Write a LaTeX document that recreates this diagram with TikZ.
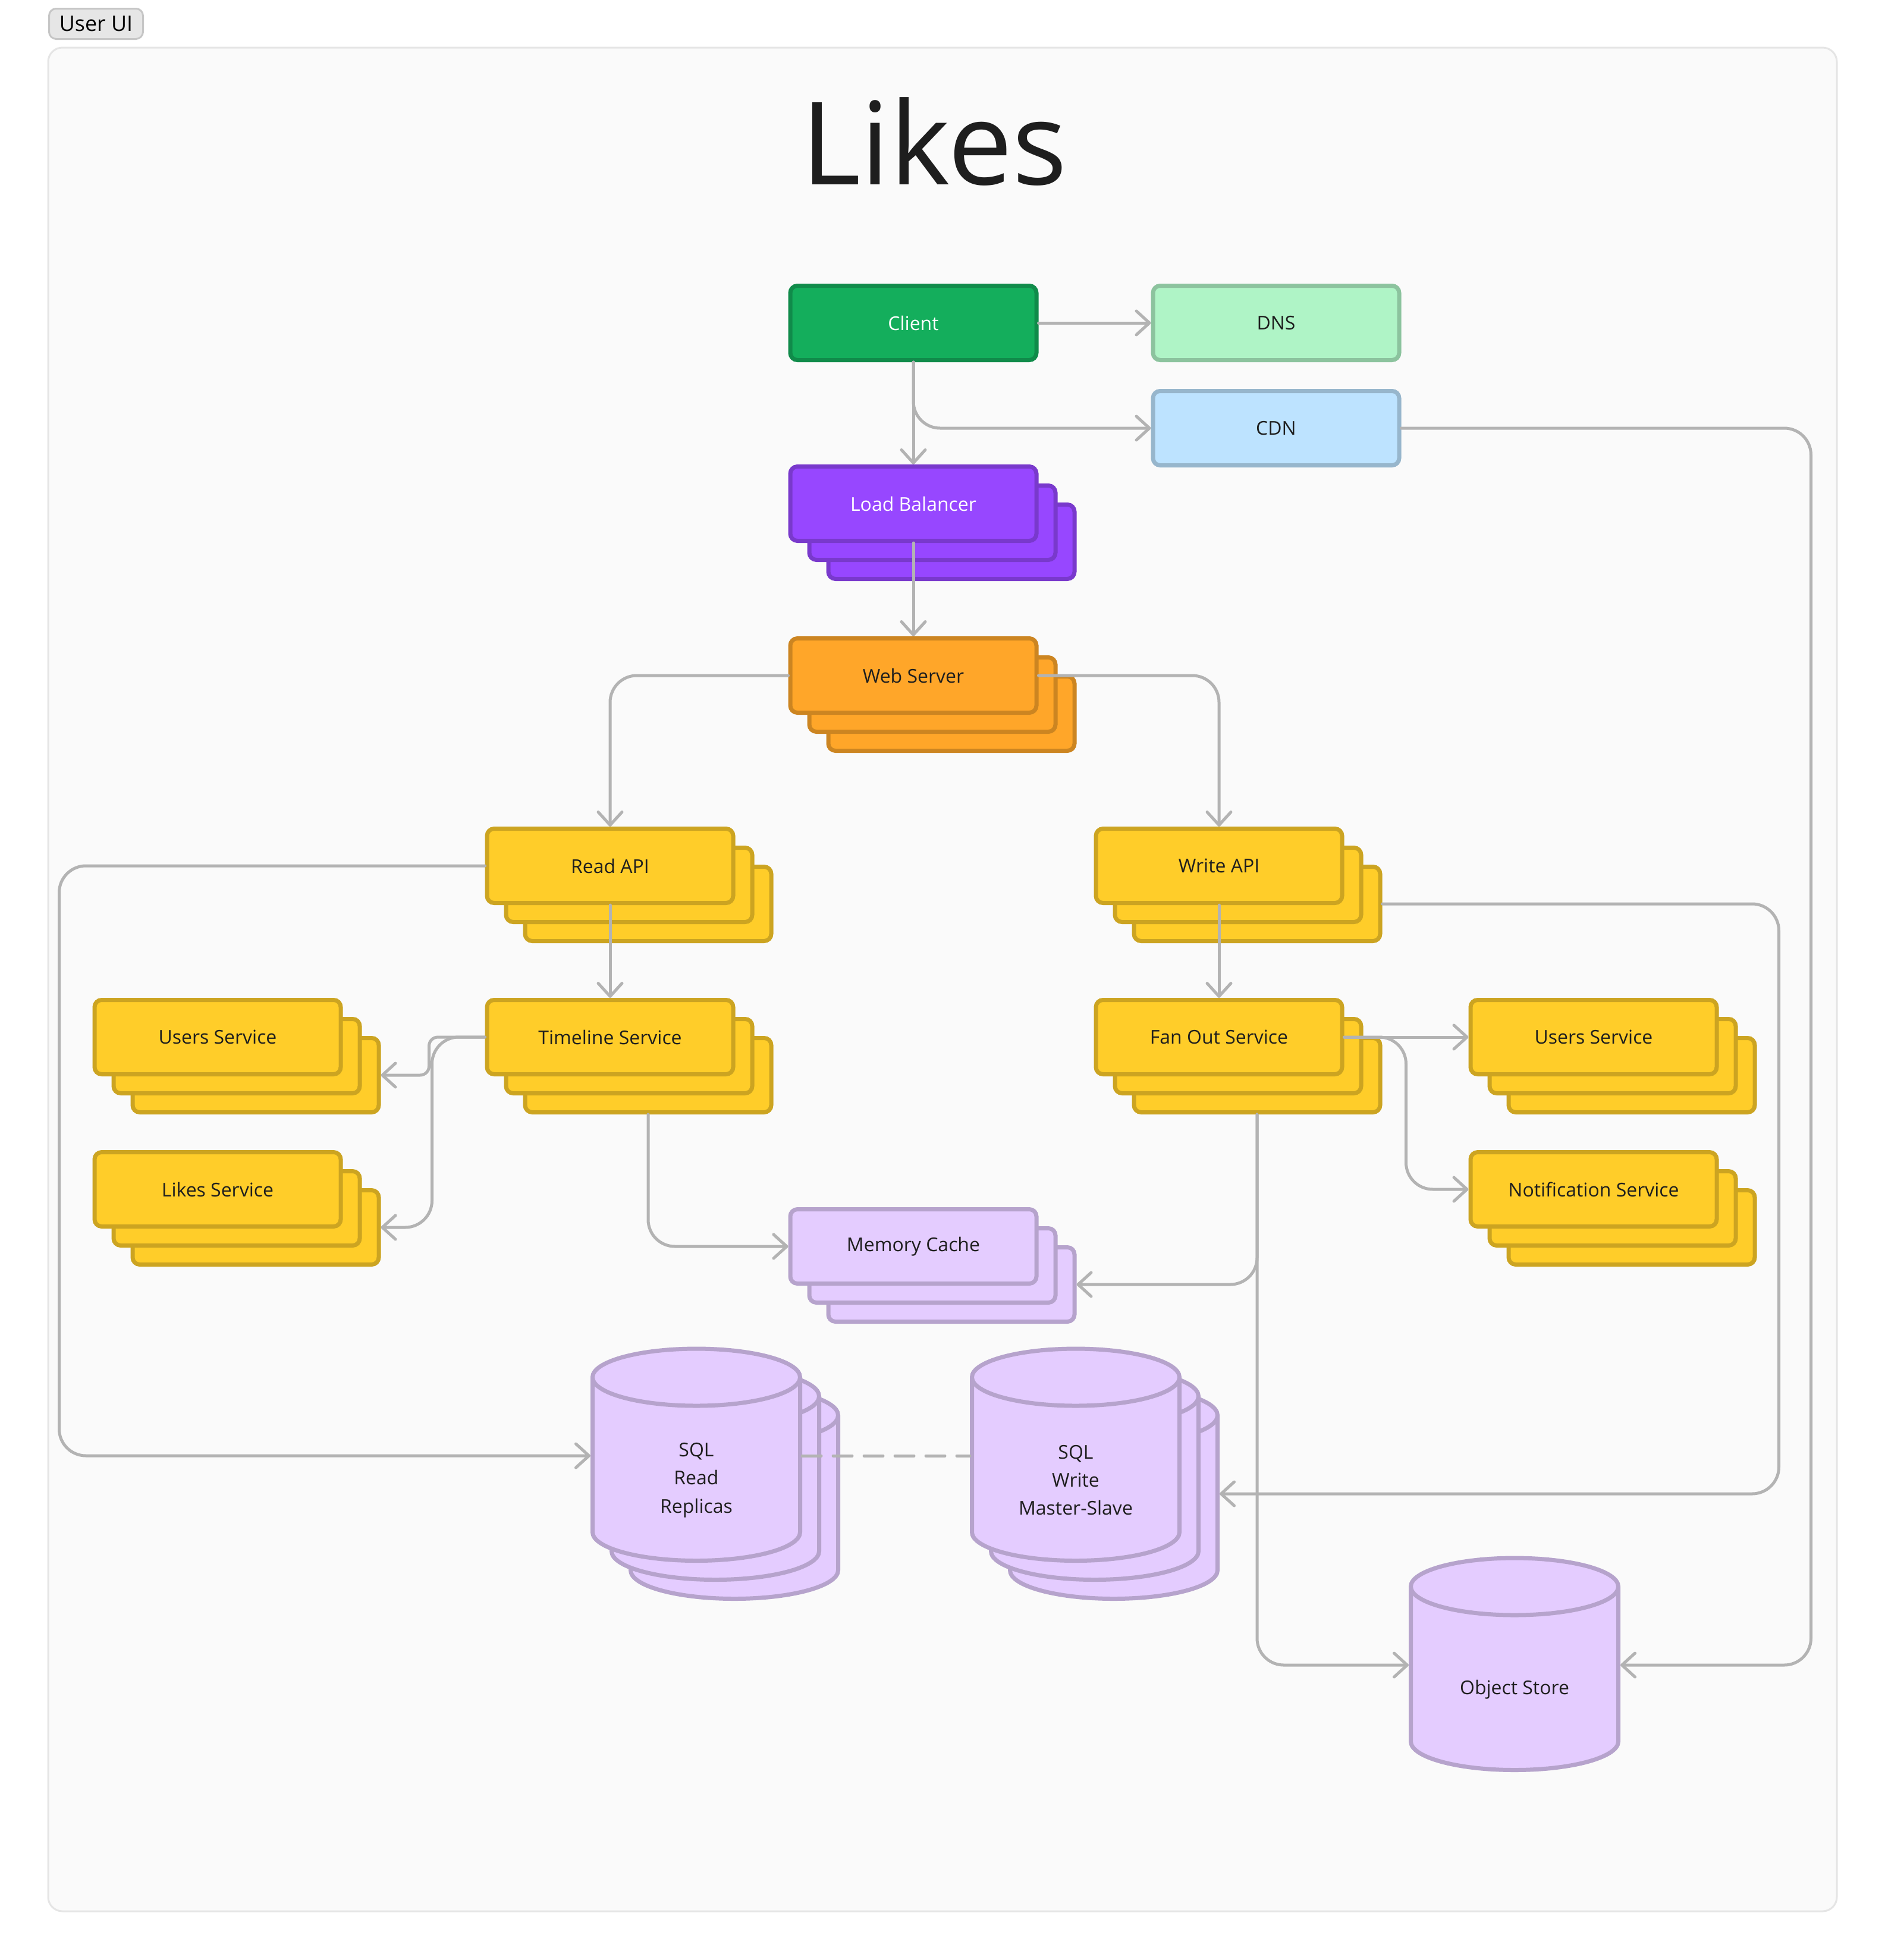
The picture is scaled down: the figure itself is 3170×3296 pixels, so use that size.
\documentclass[tikz,border=0pt]{standalone}
\usepackage{fontspec}
\setmainfont{Open Sans}
\usetikzlibrary{positioning,shadows,shapes.geometric,arrows.meta}
\definecolor{framefill}{HTML}{FAFAFA}
\definecolor{frameline}{HTML}{E5E5E5}
\definecolor{tabfill}{HTML}{E6E6E6}
\definecolor{tabline}{HTML}{C6C6C6}
\definecolor{ink}{HTML}{1E1E1E}
\definecolor{wire}{HTML}{B3B3B3}
\definecolor{greenfill}{HTML}{14AE5C}
\definecolor{greenline}{HTML}{108B4A}
\definecolor{mintfill}{HTML}{AFF4C6}
\definecolor{mintline}{HTML}{8CC39E}
\definecolor{skyfill}{HTML}{BDE3FF}
\definecolor{skyline}{HTML}{97B6CC}
\definecolor{violetfill}{HTML}{9747FF}
\definecolor{violetline}{HTML}{7939CC}
\definecolor{orangefill}{HTML}{FFA629}
\definecolor{orangeline}{HTML}{CC8521}
\definecolor{yellowfill}{HTML}{FFCD29}
\definecolor{yellowline}{HTML}{CCA421}
\definecolor{lilacfill}{HTML}{E4CCFF}
\definecolor{lilacline}{HTML}{B6A3CC}
\begin{document}
\begin{tikzpicture}[x=0.1mm, y=-0.1mm, on grid,
  every node/.style={font=\fontsize{9.1pt}{13.5pt}\selectfont, text=ink},
  box/.style={rectangle, rounded corners=1.2mm, line width=0.7mm,
    minimum width=41.4mm, minimum height=12.5mm, inner sep=0pt},
  stack/.style={copy shadow={shadow xshift=6.4mm, shadow yshift=-6.4mm},
    copy shadow={shadow xshift=3.2mm, shadow yshift=-3.2mm}},
  service/.style={box, stack, fill=yellowfill, draw=yellowline},
  db/.style={cylinder, shape border rotate=90, aspect=0.275, line width=0.7mm,
    minimum width=0pt, minimum height=0pt, inner xsep=17.45mm, inner ysep=12.85mm,
    fill=lilacfill, draw=lilacline},
  dbtext/.style={align=center, yshift=0.7mm},
  conn/.style={draw=wire, line width=0.5mm, line cap=round, rounded corners=4.5mm,
    -{Straight Barb[length=2.2mm, width=4mm, round]}},
  dashline/.style={draw=wire, line width=0.5mm, line cap=round,
    dash pattern=on 3.2mm off 2mm}]
\useasboundingbox (0,0) rectangle (3170,3296);
\fill[white] (0,0) rectangle (3170,3296);
\draw[draw=frameline, fill=framefill, line width=0.3mm, rounded corners=2.4mm]
  (81,80) rectangle (3089,3214);
\node[box, fill=tabfill, draw=tabline, line width=0.3mm, minimum width=15.8mm,
  minimum height=5.1mm, font=\fontsize{10.2pt}{12pt}\selectfont, text=black]
  (userui) at (161.5,40) {User UI};
\node[font=\fontsize{55pt}{60pt}\selectfont, anchor=base] (title) at (1571,310) {Likes};

\node[box, fill=greenfill, draw=greenline, text=white] (client) at (1536,543) {Client};
\node[box, fill=mintfill, draw=mintline, right=61mm of client] (dns) {DNS};
\node[box, fill=skyfill, draw=skyline, below=17.7mm of dns] (cdn) {CDN};
\node[box, stack, fill=violetfill, draw=violetline, text=white] (lb) at (1536,847) {Load Balancer};
\node[box, stack, fill=orangefill, draw=orangeline, below=28.9mm of lb] (web) {Web Server};
\node[service] (readapi) at (1026,1456) {Read API};
\node[service, right=102.4mm of readapi] (writeapi) {Write API};
\node[service, below=28.8mm of readapi] (timeline) {Timeline Service};
\node[service, below=28.8mm of writeapi] (fanout) {Fan Out Service};
\node[service, left=66mm of timeline] (usersl) {Users Service};
\node[service, below=25.6mm of usersl] (likes) {Likes Service};
\node[service, right=63mm of fanout] (usersr) {Users Service};
\node[service, below=25.6mm of usersr] (notif) {Notification Service};
\node[box, stack, fill=lilacfill, draw=lilacline] (memcache) at (1536,2096) {Memory Cache};
\node[db, stack, label={[dbtext, name=sqlread-text]center:SQL\\Read\\Replicas}]
  (sqlread) at (1171,2496) {};
\node[db, stack, right=63.8mm of sqlread,
  label={[dbtext, name=sqlwrite-text]center:SQL\\Write\\Master-Slave}] (sqlwrite) {};
\node[db, label={[dbtext, name=objstore-text]center:Object Store}] (objstore) at (2547,2848) {};

\coordinate (timeline-b) at ([shift={(64,64)}]timeline.south);
\coordinate (fanout-b) at ([shift={(64,64)}]fanout.south);
\coordinate (writeapi-r) at ([shift={(64,64)}]writeapi.east);
\coordinate (usersl-r) at ([shift={(64,64)}]usersl.east);
\coordinate (likes-r) at ([shift={(64,64)}]likes.east);
\coordinate (memcache-r) at ([shift={(64,64)}]memcache.east);
\coordinate (sqlread-l) at ([shift={(0,-48)}]sqlread.west);
\coordinate (sqlread-r) at ([shift={(0,-48)}]sqlread.east);
\coordinate (sqlwrite-l) at ([shift={(0,-48)}]sqlwrite.west);
\coordinate (sqlwrite-r) at ([shift={(64,16)}]sqlwrite.east);
\coordinate (objstore-l) at ([shift={(0,-48)}]objstore.west);
\coordinate (objstore-r) at ([shift={(0,-48)}]objstore.east);

\draw[conn] (client) -- (dns);
\draw[conn] (client) -- (lb);
\draw[conn] (client.south) |- (cdn);
\draw[conn] (lb) -- (web);
\draw[conn] (web) -| (readapi);
\draw[conn] (web) -| (writeapi);
\draw[conn] (readapi) -- (timeline);
\draw[conn] (writeapi) -- (fanout);
\draw[conn] (readapi.west) -- ++(-716,0) |- (sqlread-l);
\draw[conn, rounded corners=1.5mm] (timeline.west) -- ++(-94,0) |- (usersl-r);
\draw[conn] (timeline.west) -- ++(-89,0) |- (likes-r);
\draw[conn] (timeline-b) |- (memcache);
\draw[conn] (fanout) -- (usersr);
\draw[conn] (fanout.east) -- ++(104,0) |- (notif);
\draw[conn] (fanout-b) |- (memcache-r);
\draw[conn] (fanout-b) |- (objstore-l);
\draw[conn] (writeapi-r) -- ++(667,0) |- (sqlwrite-r);
\draw[conn] (cdn.east) -- ++(689,0) |- (objstore-r);
\draw[dashline] (sqlread-r) -- (sqlwrite-l);
\end{tikzpicture}
\end{document}
